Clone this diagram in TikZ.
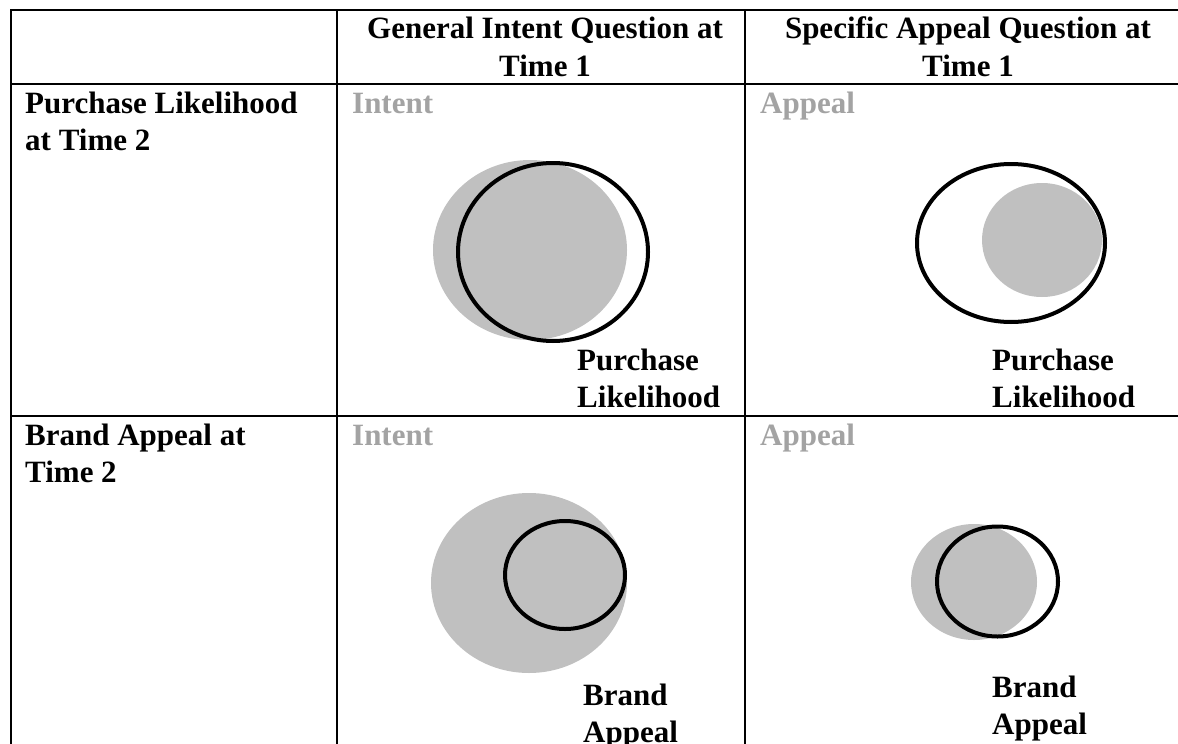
\documentclass[tikz,border=0pt]{standalone}
\usepackage{fontspec}
\setmainfont{Liberation Serif}
\definecolor{fillgray}{HTML}{C0C0C0}
\definecolor{labelgray}{HTML}{A3A3A3}
\begin{document}
\begin{tikzpicture}[x=1pt,y=-1pt,
  rule/.style={line width=2pt},
  txt/.style={inner sep=0pt,anchor=base west,font=\fontsize{31}{37}\selectfont\bfseries},
  hdr/.style={inner sep=0pt,anchor=base,font=\fontsize{31}{37}\selectfont\bfseries},
  tag/.style={txt,text=labelgray},
  shade/.style={fill=fillgray,draw=none},
  ring/.style={draw=black,line width=4pt,fill=none}]
\useasboundingbox (0,0) rectangle (1178,744);
\clip (0,0) rectangle (1178,744);

% table rules
\draw[rule] (11,744) -- (11,10) -- (1190,10);
\draw[rule] (11,84) -- (1190,84);
\draw[rule] (11,416) -- (1190,416);
\draw[rule] (337,10) -- (337,744);
\draw[rule] (745,10) -- (745,744);

% column headers
\node[hdr] (h1a) at (545,38) {General Intent Question at};
\node[hdr] (h1b) at (545,76) {Time 1};
\node[hdr] (h2a) at (968,38) {Specific Appeal Question at};
\node[hdr] (h2b) at (968,76) {Time 1};

% row headers
\node[txt] (r1a) at (25,113) {Purchase Likelihood};
\node[txt] (r1b) at (25,150) {at Time 2};
\node[txt] (r2a) at (25,445) {Brand Appeal at};
\node[txt] (r2b) at (25,482) {Time 2};

% cell tags
\node[tag] (t11) at (352,113) {Intent};
\node[tag] (t12) at (760,113) {Appeal};
\node[tag] (t21) at (352,445) {Intent};
\node[tag] (t22) at (760,445) {Appeal};

% row 1, intent
\fill[shade] (530,250) ellipse [x radius=97pt, y radius=90pt];
\draw[ring] (553,252) ellipse [x radius=95pt, y radius=89pt];
\node[txt] (p11a) at (577,370) {Purchase};
\node[txt] (p11b) at (577,407) {Likelihood};

% row 1, appeal
\draw[ring] (1011,243) ellipse [x radius=94pt, y radius=79pt];
\fill[shade] (1042,240) ellipse [x radius=60pt, y radius=57pt];
\node[txt] (p12a) at (992,370) {Purchase};
\node[txt] (p12b) at (992,407) {Likelihood};

% row 2, intent
\fill[shade] (529,583) ellipse [x radius=98pt, y radius=90pt];
\draw[ring] (565,575) ellipse [x radius=60pt, y radius=54pt];
\node[txt] (b21a) at (583,705) {Brand};
\node[txt] (b21b) at (583,742) {Appeal};

% row 2, appeal
\fill[shade] (974,582) ellipse [x radius=63pt, y radius=58pt];
\draw[ring] (997.5,581.5) ellipse [x radius=60.5pt, y radius=55pt];
\node[txt] (b22a) at (992,697) {Brand};
\node[txt] (b22b) at (992,734) {Appeal};
\end{tikzpicture}
\end{document}
